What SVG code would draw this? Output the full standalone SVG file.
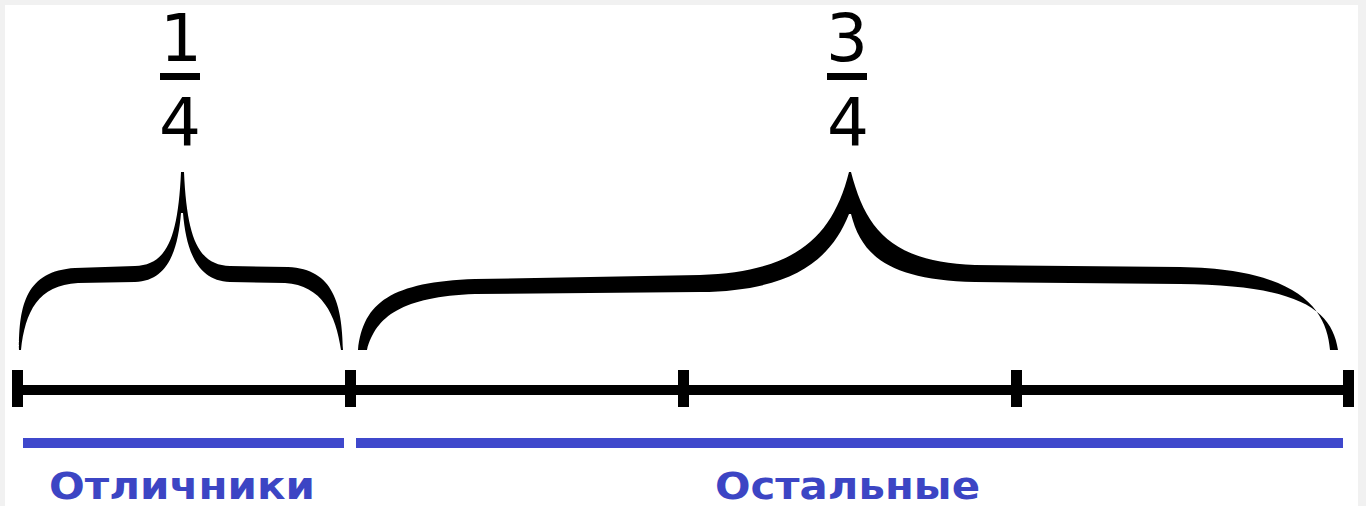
<svg xmlns="http://www.w3.org/2000/svg" width="1366" height="506" viewBox="0 0 1366 506">
<style>
.frac{font-family:"DejaVu Sans","Verdana",sans-serif;font-size:66px;fill:#000;text-anchor:middle}
.lbl{font-family:"DejaVu Sans","Verdana",sans-serif;font-weight:bold;font-size:38px;fill:#3c45c4}
.brace{fill:#000}
.tick{fill:#000}
.blue{fill:#3f48cc}
</style>
<rect x="0" y="0" width="1366" height="506" fill="#f1f1f1"/>
<rect x="5" y="5" width="1353" height="501" fill="#fff"/>
<g id="frac-left">
<text class="frac" x="181" y="61">1</text>
<rect x="160" y="73" width="40" height="7" fill="#000"/>
<text class="frac" x="180" y="145">4</text>
</g>
<g id="frac-right">
<text class="frac" x="847" y="61">3</text>
<rect x="827" y="73" width="40" height="7" fill="#000"/>
<text class="frac" x="848" y="145">4</text>
</g>
<g id="brace-left">
<path class="brace" d="M19,350 C19,305 26,271 75,268 L135,266 C166,265 178,240 181,172 L184,172 C187,240 199,265 230,266 L288,267 C334,269 342,305 343,350 L341,350 C336,315 322,285 285,283 L230,282 C197,281 186,250 183,213 L181,213 C178,250 168,281 135,282 L78,283 C38,285 25,312 21,350 Z"/>
</g>
<g id="brace-right">
<path class="brace" d="M358,350 C363,302 392,282 475,279 L700,275 C792,272 832,240 849,172 L851,172 C866,230 892,262 975,265 L1180,267 C1300,269 1327,310 1330,350 L1338,350 C1332,310 1300,285 1180,284 L975,282 C892,280 862,258 851,214 L849,214 C830,262 790,291 700,292 L475,294 C402,297 376,316 367,350 Z"/>
</g>
<g id="number-line">
<rect x="12" y="385" width="1342" height="10" fill="#000"/>
<rect class="tick" x="12" y="370" width="11" height="37"/>
<rect class="tick" x="345" y="370" width="11" height="37"/>
<rect class="tick" x="678" y="370" width="11" height="37"/>
<rect class="tick" x="1011" y="370" width="11" height="37"/>
<rect class="tick" x="1343" y="370" width="11" height="37"/>
</g>
<g id="label-left">
<rect class="blue" x="23" y="438" width="321" height="10"/>
<text class="lbl" x="49" y="499" textLength="266" lengthAdjust="spacingAndGlyphs">Отличники</text>
</g>
<g id="label-right">
<rect class="blue" x="356" y="438" width="987" height="10"/>
<text class="lbl" x="715" y="499" textLength="265" lengthAdjust="spacingAndGlyphs">Остальные</text>
</g>
</svg>
